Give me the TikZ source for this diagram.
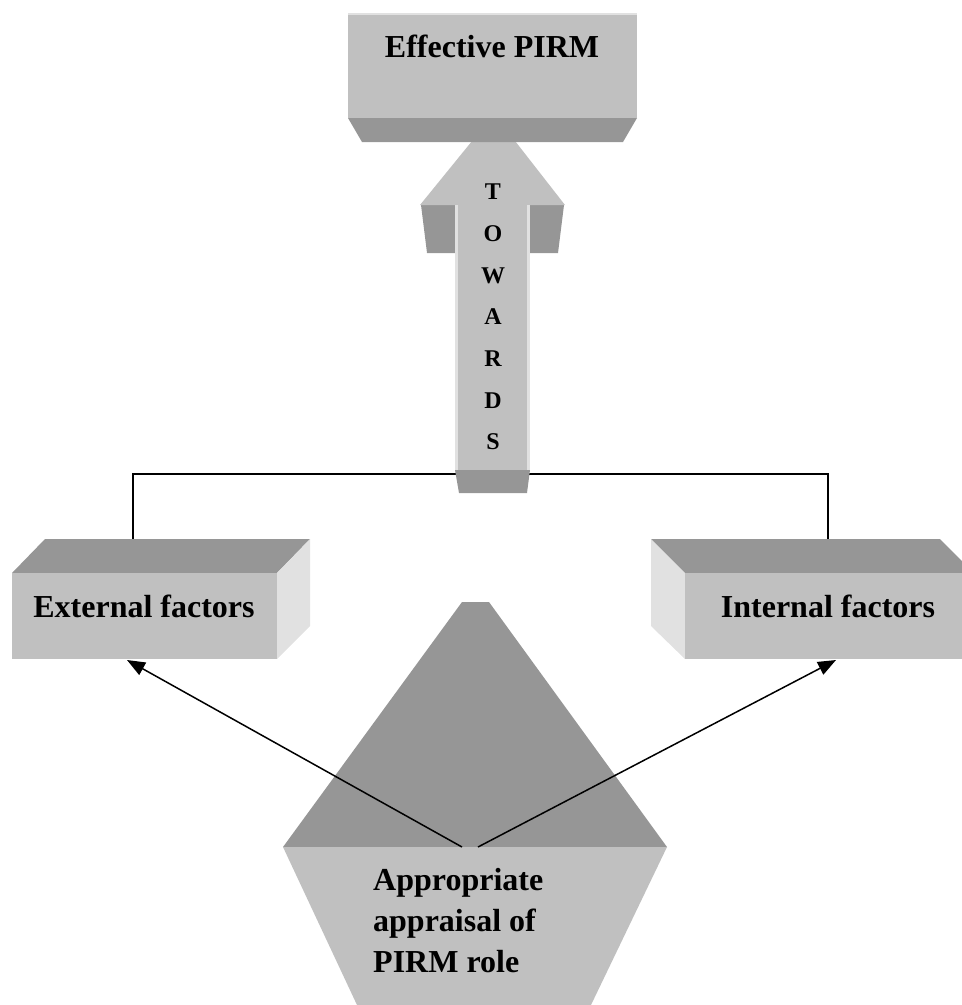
\documentclass[tikz,border=0pt]{standalone}
\usepackage{fontspec}
\setmainfont{Liberation Serif}
\usetikzlibrary{arrows.meta}

\definecolor{facegray}{RGB}{192,192,192}
\definecolor{shadegray}{RGB}{150,150,150}
\definecolor{sidegray}{RGB}{225,225,225}

\tikzset{
  boxtext/.style={font=\fontsize{32}{41}\selectfont\bfseries, inner sep=0pt},
  lettertext/.style={font=\fontsize{24}{28}\selectfont\bfseries, inner sep=0pt},
  link/.style={line width=1.5pt, color=black},
  pointer/.style={link, -{Triangle[length=18pt,width=14pt]}}
}

\begin{document}
\begin{tikzpicture}[x=1pt,y=-1pt]
    \clip (0,0) rectangle (962,1005);

    % line joining the factor boxes
    \coordinate (extTop) at (133,573);
    \coordinate (intTop) at (828,573);
    \draw[link] (extTop) -- ++(0,-99) -| (intTop);

    % arrow towards the goal
    \fill[
      color=shadegray
    ] (421,205) -- (455,205) -- (455,253) -- (427,253) -- cycle
      (530,205) -- (564,205) -- (558,253) -- (530,253) -- cycle;
    \fill[
      color=facegray
    ] (420,205) -- (494,114) -- (565,205) -- cycle;
    \fill[
      color=facegray
    ] (455,205) rectangle (530,470);
    \draw[sidegray, line width=2.5pt] (456.5,205) -- (456.5,470)
      (528.5,205) -- (528.5,470);
    \fill[
      color=shadegray
    ] (455,470) -- (530,470) -- (527,493) -- (459,493) -- cycle;
    \foreach \letter [count=\i] in {T,O,W,A,R,D,S}
      \node[lettertext, anchor=base] (towards\i) at (493,158+41.7*\i) {\letter};

    % goal box
    \fill[
      color=facegray
    ] (348,13) rectangle (637,118);
    \draw[sidegray, line width=2pt] (348,14) -- (637,14);
    \fill[
      color=shadegray
    ] (348,118) -- (637,118) -- (623,142) -- (362,142) -- cycle;
    \node[boxtext, anchor=base] (goal) at (492,57) {Effective PIRM};

    % external factors
    \fill[shadegray] (12,573) -- (45,539) -- (310,539) -- (277,573) -- cycle;
    \fill[sidegray] (277,573) -- (310,539) -- (310,626) -- (277,659) -- cycle;
    \fill[facegray] (12,573) rectangle (277,659);
    \node[boxtext, anchor=base] (ext) at (144,617) {External factors};

    % internal factors
    \fill[shadegray] (685,573) -- (651,539) -- (940,539) -- (974,573) -- cycle;
    \fill[sidegray] (685,573) -- (651,539) -- (651,626) -- (685,659) -- cycle;
    \fill[facegray] (685,573) rectangle (975,659);
    \node[boxtext, anchor=base] (int) at (828,617) {Internal factors};

    % appraisal
    \fill[
      color=shadegray
    ] (462,602) -- (489,602) -- (667,847) -- (283,847) -- cycle;
    \fill[
      color=facegray
    ] (283,847) -- (667,847) -- (591,1005) -- (357,1005) -- cycle;
    \node[boxtext, align=left, anchor=base west] (appraisal) at (373,972)
      {Appropriate\\appraisal of\\PIRM role};

    \coordinate (appLeft) at (462,847);
    \coordinate (appRight) at (478,847);
    \coordinate (extBottom) at (127,660);
    \coordinate (intBottom) at (836,660);
    \draw[pointer] (appLeft) -- (extBottom);
    \draw[pointer] (appRight) -- (intBottom);
\end{tikzpicture}
\end{document}
